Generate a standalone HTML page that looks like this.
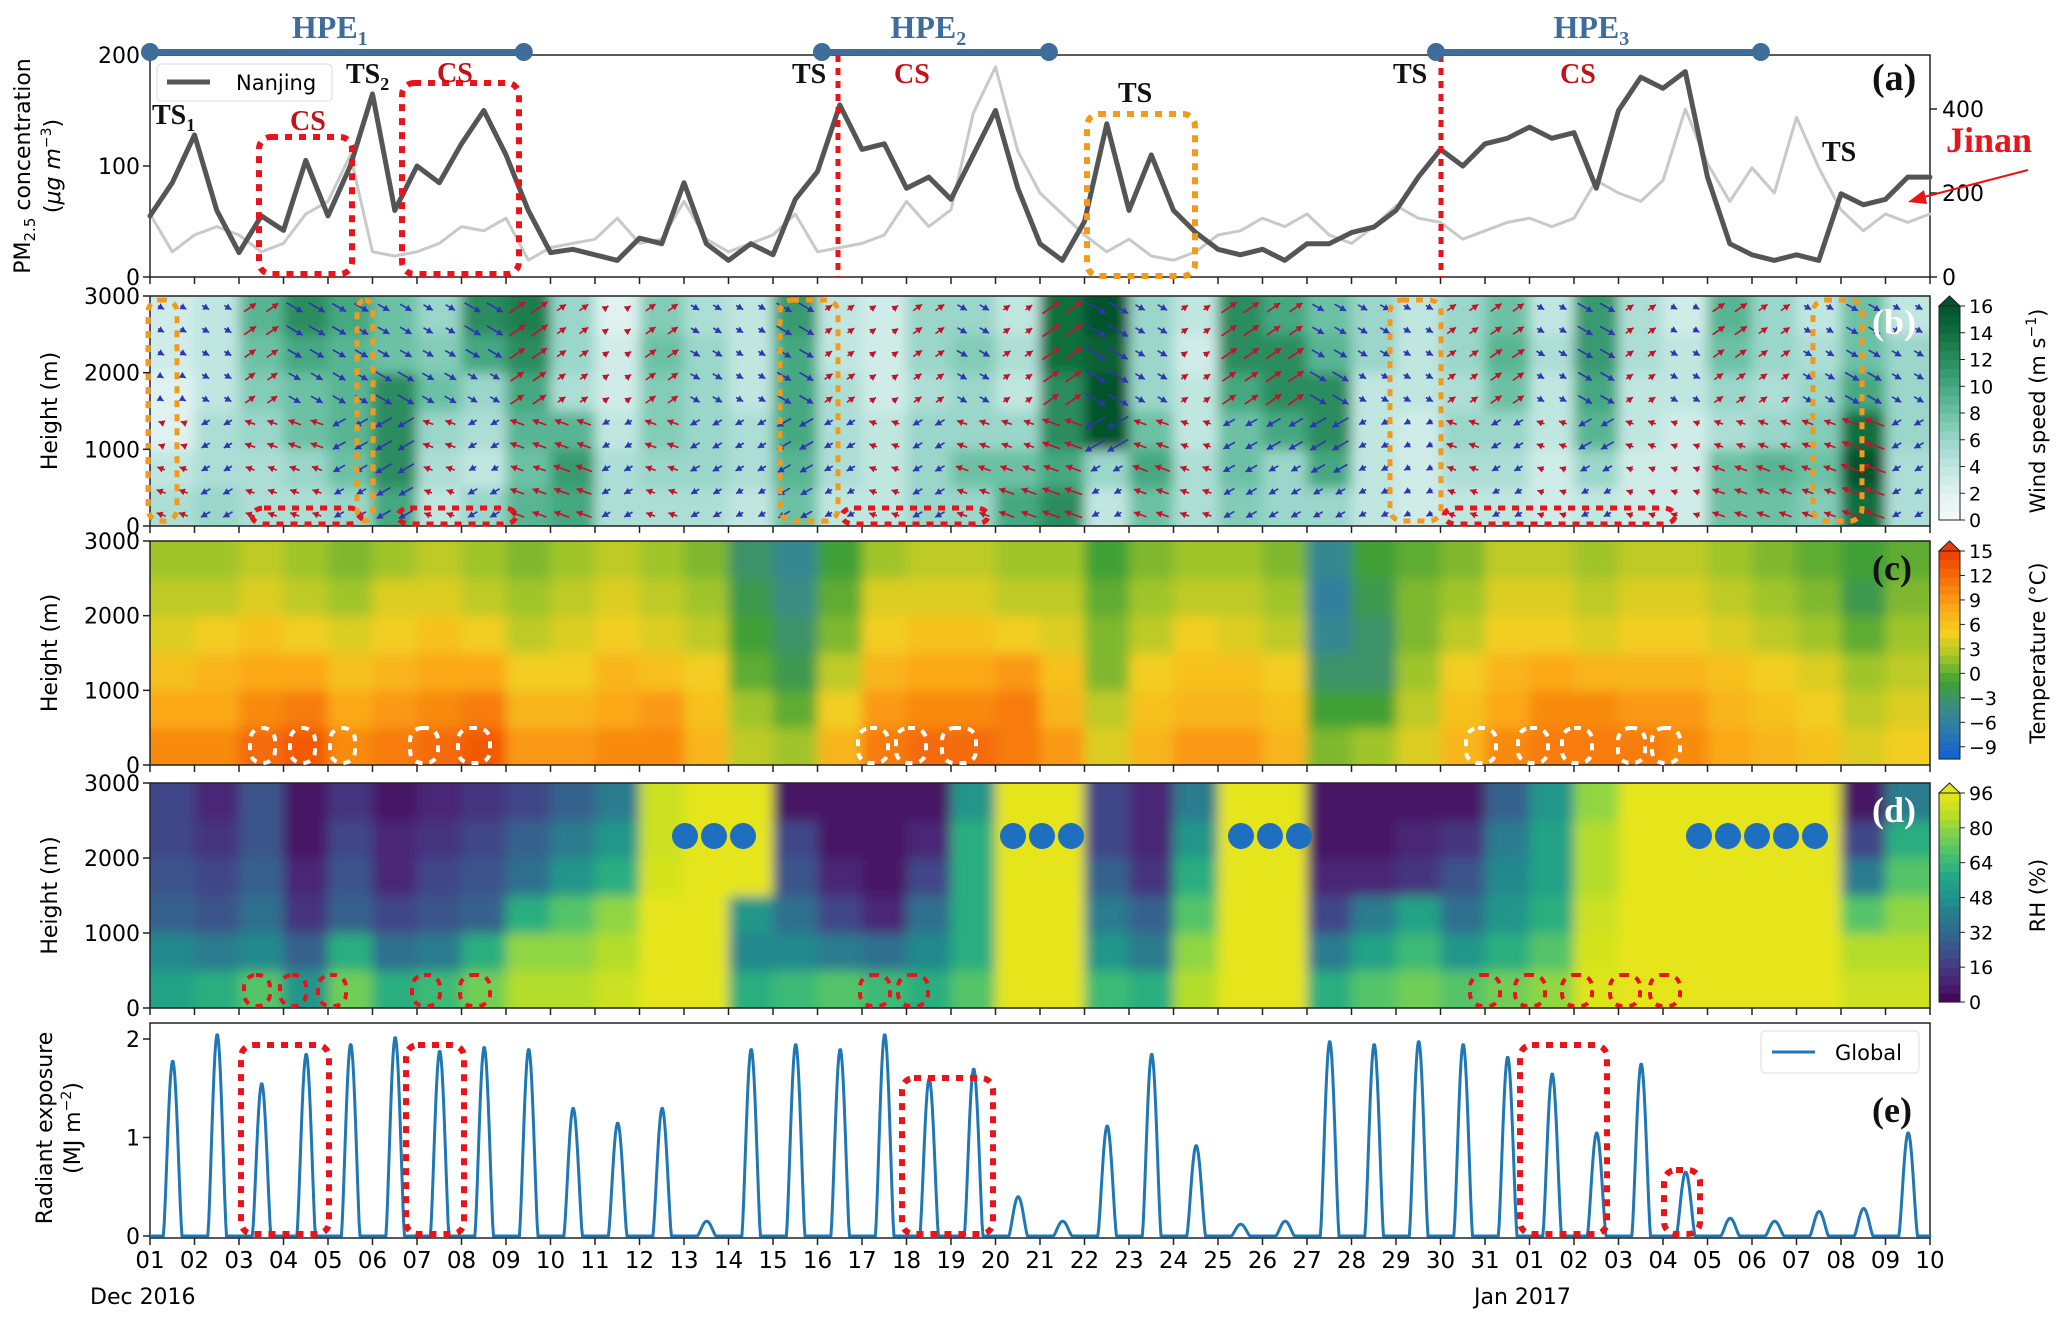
<!DOCTYPE html>
<html><head><meta charset="utf-8"><style>
html,body{margin:0;padding:0;background:#fff}
svg{display:block}
text{font-family:"DejaVu Sans","Liberation Sans",sans-serif}
.serif{font-family:"Liberation Serif",serif;font-weight:bold}
</style></head><body>
<svg id="fig" width="2067" height="1327" viewBox="0 0 2067 1327"></svg>
<script>
// ---------- DATA ----------
const dayLabels=["01","02","03","04","05","06","07","08","09","10","11","12","13","14","15","16","17","18","19","20","21","22","23","24","25","26","27","28","29","30","31","01","02","03","04","05","06","07","08","09","10"];
const pmDays=[0,0.5,1,1.5,2,2.5,3,3.5,4,4.5,5,5.5,6,6.5,7,7.5,8,8.5,9,9.5,10,10.5,11,11.5,12,12.5,13,13.5,14,14.5,15,15.5,16,16.5,17,17.5,18,18.5,19,19.5,20,20.5,21,21.5,22,22.5,23,23.5,24,24.5,25,25.5,26,26.5,27,27.5,28,28.5,29,29.5,30,30.5,31,31.5,32,32.5,33,33.5,34,34.5,35,35.5,36,36.5,37,37.5,38,38.5,39,39.5,40];
const nanjing=[55,85,128,60,22,55,42,105,55,100,165,60,100,85,120,150,110,60,22,25,20,15,35,30,85,30,15,30,20,70,95,155,115,120,80,90,70,110,150,80,30,15,50,138,60,110,60,40,25,20,25,15,30,30,40,45,60,90,115,100,120,125,135,125,130,80,150,180,170,185,90,30,20,15,20,15,75,65,70,90,90];
const jinan=[150,60,100,120,100,60,80,150,180,290,60,50,60,80,120,110,140,40,70,80,90,140,80,90,180,90,60,80,100,150,60,70,80,100,180,120,160,390,500,300,200,150,100,60,90,50,40,60,100,110,140,120,150,100,80,120,170,140,130,90,110,130,140,120,140,230,200,180,230,400,270,180,260,200,380,260,160,110,150,130,150];
const pmTicksL=[0,100,200];
const pmTicksR=[0,200,400];
const hTicks=[0,1000,2000,3000];
const ws0=[5,6,5,5,6,10,4,6,9,10,5,5,5,4,8,4,4,6,6,10,12,4,8,5,7,6,6,4,3,4,4,3,4,3,3,8,8,7,14,5];
const ws1=[4,5,5,6,8,12,5,4,8,11,5,6,6,5,9,5,4,6,8,8,10,6,10,5,8,6,10,4,3,5,5,3,6,3,3,8,9,8,16,5];
const ws2=[2,5,6,8,9,12,6,5,9,9,4,7,6,5,10,5,4,6,6,6,12,16,8,4,8,10,12,4,3,6,6,4,9,4,3,5,6,7,14,6];
const ws3=[2,4,7,8,9,12,8,6,10,5,3,7,6,4,10,5,3,5,6,4,12,16,6,4,10,12,12,4,4,5,8,4,10,4,4,6,5,6,10,6];
const ws4=[3,4,8,10,9,8,7,10,12,6,3,8,6,4,10,4,3,6,7,5,14,15,6,3,12,12,9,6,4,6,9,5,11,5,4,8,6,5,8,6];
const ws5=[3,4,9,12,10,8,6,12,13,6,2,7,5,4,11,4,3,6,6,4,14,16,6,4,12,10,8,6,4,6,8,4,11,5,3,9,6,4,8,4];
const windTop="bbrbbbbbrrrrbbbrrrbrrbbrrrbbbrrbbrbrrbbb";
const windLow="rbrrbbrbrrbrbbbbrbrrrbrrbbbbbrbrbrrrrrrb";
const t0=[10,10,12,13,10,11,12,13,9,9,10,10,7,3,2,7,11,12,12,11,9,4,7,9,9,7,1,2,4,7,10,11,11,11,10,8,7,6,4,5];
const t1=[8,8,10,11,8,9,10,11,7,7,8,9,6,2,0,5,9,10,10,11,7,3,6,7,7,6,-1,-1,3,6,8,10,10,9,9,7,6,5,3,4];
const t2=[6,7,8,8,6,7,8,8,5,5,7,6,5,0,-2,3,7,8,8,9,6,1,5,6,6,5,-3,-3,2,5,7,8,7,7,7,6,5,4,2,3];
const t3=[4,5,6,5,4,5,6,5,3,4,5,4,3,-1,-3,1,5,6,6,5,4,1,3,5,4,3,-5,-3,1,3,5,5,4,5,5,4,3,2,0,2];
const t4=[3,3,4,3,2,4,4,3,2,3,4,3,2,-2,-4,0,4,4,4,3,3,0,2,3,3,2,-6,-2,1,2,4,4,3,4,4,3,2,1,-2,1];
const t5=[2,2,3,2,1,2,3,2,1,2,3,2,1,-3,-5,-1,2,3,3,2,2,-1,1,2,2,1,-5,-1,0,1,3,3,2,3,3,2,1,0,-1,0];
const rh0=[55,60,70,50,75,60,65,75,85,85,90,96,96,60,65,70,65,60,70,96,96,65,60,85,96,96,60,70,75,70,75,80,94,96,96,96,96,96,90,90];
const rh1=[45,40,45,30,60,35,40,60,80,80,85,96,96,45,45,40,35,45,60,96,96,50,40,80,96,96,40,55,65,50,60,70,92,96,96,96,96,96,85,85];
const rh2=[30,25,35,15,30,20,25,30,60,70,80,96,96,50,35,20,10,35,60,96,96,40,30,70,96,96,20,40,55,35,50,60,90,96,96,96,96,96,70,80];
const rh3=[25,20,30,10,25,10,20,25,35,50,60,92,96,96,25,10,5,20,60,96,96,30,15,60,96,96,10,10,15,25,45,55,85,96,96,96,96,96,40,70];
const rh4=[20,15,25,5,20,10,15,20,30,40,50,90,96,96,20,5,5,10,60,96,96,20,10,50,96,96,5,5,10,15,40,55,85,96,96,96,96,96,20,60];
const rh5=[20,10,25,5,15,5,10,15,20,30,40,90,96,96,5,5,5,5,50,96,96,20,10,40,96,96,5,5,5,5,30,50,80,96,96,96,96,96,5,40];
const radPeak=[1.78,2.05,1.55,1.85,1.95,2.02,1.88,1.92,1.9,1.3,1.15,1.3,0.15,1.9,1.95,1.9,2.05,1.6,1.7,0.4,0.15,1.12,1.85,0.92,0.12,0.15,1.98,1.95,1.98,1.95,1.82,1.65,1.05,1.75,0.65,0.18,0.15,0.25,0.28,1.05];
const radTicks=[0,1,2];
const wsTicks=[0,2,4,6,8,10,12,14,16];
const tTicks=[-9,-6,-3,0,3,6,9,12,15];
const rhTicks=[0,16,32,48,64,80,96];

// ---------- HELPERS ----------
const NS="http://www.w3.org/2000/svg";
const svg=document.getElementById('fig');
function mk(tag,attrs,parent){const e=document.createElementNS(NS,tag);for(const k in attrs)e.setAttribute(k,attrs[k]);(parent||svg).appendChild(e);return e;}
const L=150,R=1930;
const X=d=>L+d*(R-L)/40;
const P={a:[55,277],b:[296,526],c:[541,765],d:[783,1008],e:[1023,1238]};
const yH=(p,h)=>P[p][1]-h/3000*(P[p][1]-P[p][0]);
const yPM=v=>277-v/200*222;
const yJ=v=>277-v/400*168;
const yRad=v=>1236-v*98.5;

function lerpColor(stops,t){t=Math.max(0,Math.min(1,t));for(let i=1;i<stops.length;i++){if(t<=stops[i][0]){const a=stops[i-1],b=stops[i];const f=(t-a[0])/(b[0]-a[0]);const ca=a[1].match(/\w\w/g).map(h=>parseInt(h,16)),cb=b[1].match(/\w\w/g).map(h=>parseInt(h,16));return 'rgb('+ca.map((c,j)=>Math.round(c+(cb[j]-c)*f)).join(',')+')';}}return stops[stops.length-1][1];}
const wsStops=[[0,'#f4fbfb'],[0.125,'#dff2f0'],[0.25,'#c0e6e0'],[0.375,'#9ad6c9'],[0.5,'#6cc1a5'],[0.625,'#44a881'],[0.75,'#2a8c5e'],[0.875,'#106f3e'],[1,'#00532a']];
const tStops=[[0,'#0f5fd8'],[0.125,'#2a78b0'],[0.25,'#3a8c85'],[0.375,'#3fa032'],[0.5,'#a8c82a'],[0.6,'#f2d020'],[0.72,'#fbab1a'],[0.85,'#f7780c'],[1,'#ee3a00']];
const rhStops=[[0,'#440154'],[0.1,'#482475'],[0.2,'#414487'],[0.3,'#355f8d'],[0.4,'#2a788e'],[0.5,'#21918c'],[0.6,'#22a884'],[0.7,'#44bf70'],[0.8,'#7ad151'],[0.9,'#bddf26'],[1,'#e6e51a']];

const defs=mk('defs',{});
['b','c','d'].forEach(p=>{const cp=mk('clipPath',{id:'clip'+p},defs);mk('rect',{x:L,y:P[p][0],width:R-L,height:P[p][1]-P[p][0]},cp);});
const flt=mk('filter',{id:'soft',x:'-5%',y:'-5%',width:'110%',height:'110%'},defs);
mk('feGaussianBlur',{stdDeviation:'6'},flt);

function heatmap(p,rows,fn,name){
  const outer=mk('g',{'clip-path':'url(#clip'+p+')'});
  
  
  const g=mk('g',{filter:'url(#soft)'},outer);
  rows.forEach((row,ri)=>{row.forEach((v,ci)=>{
    const x0=ci===0?L-30:X(ci), x1=ci===row.length-1?R+30:X(ci+1);
    const y1=ri===0?P[p][1]+30:yH(p,ri*500), y0=ri===rows.length-1?P[p][0]-30:yH(p,(ri+1)*500);
    const r=mk('rect',{x:x0,y:y0,width:x1-x0+0.5,height:y1-y0+0.5,fill:fn(v)},g);
    
    
  });});
  return outer;
}
function frame(p,name){const r=mk('rect',{x:L,y:P[p][0],width:R-L,height:P[p][1]-P[p][0],fill:'none',stroke:'#222','stroke-width':1.5});
  
  
  for(let i=0;i<=40;i++){mk('line',{x1:X(i),x2:X(i),y1:P[p][1],y2:P[p][1]+7,stroke:'#222','stroke-width':1.5});}}
function txt(s,x,y,attrs,name){const t=mk('text',Object.assign({x:x,y:y},attrs||{}));t.textContent=s;
  
  
  return t;}
function ylab(lines,x,cy,size){const t=mk('text',{transform:`translate(${x},${cy}) rotate(-90)`,'text-anchor':'middle','font-size':size||22});
  
  
  t.innerHTML=lines;return t;}
function dotBox(x0,y0,x1,y1,col,name,w){const r=mk('rect',{x:x0,y:y0,width:x1-x0,height:y1-y0,rx:12,fill:'none',stroke:col,'stroke-width':w||6,'stroke-dasharray':'7 7'});
  
  }

// ---------- PANEL B ----------
heatmap('b',[ws0,ws1,ws2,ws3,ws4,ws5],v=>lerpColor(wsStops,v/16),'wind-speed-contour');
const wsRows=[ws0,ws1,ws2,ws3,ws4,ws5];
const arrowG=mk('g',{'clip-path':'url(#clipb)'});


for(let d=0;d<40;d++){for(let k=0;k<2;k++){for(let j=0;j<10;j++){
  const h=150+j*300, sp=wsRows[Math.floor(h/500)][d];
  const top=h>=1500, c=(top?windTop:windLow)[d];
  const col=c==='r'?'#c0142a':'#2f35b0';
  const ang=c==='r'?(top?-35:200):(top?30:150);
  const len=3+sp*1.3, cx=X(d+0.25+k*0.5), cy=yH('b',h);
  const a=ang*Math.PI/180, ex=cx+Math.cos(a)*len/2, ey=cy+Math.sin(a)*len/2, sx=cx-Math.cos(a)*len/2, sy=cy-Math.sin(a)*len/2;
  mk('line',{x1:sx,y1:sy,x2:ex,y2:ey,stroke:col,'stroke-width':1.6},arrowG);
  const hx=ex-Math.cos(a)*6, hy=ey-Math.sin(a)*6, px=-Math.sin(a)*3.5, py=Math.cos(a)*3.5;
  mk('polygon',{points:`${ex},${ey} ${hx+px},${hy+py} ${hx-px},${hy-py}`,fill:col},arrowG);
}}}
frame('b','wind-panel-frame');
heatmap('c',[t0,t1,t2,t3,t4,t5],v=>lerpColor(tStops,(v+10.5)/25.5),'temperature-contour');
frame('c','temperature-panel-frame');
heatmap('d',[rh0,rh1,rh2,rh3,rh4,rh5],v=>lerpColor(rhStops,v/96),'rh-contour');
frame('d','rh-panel-frame');

// ---------- PANEL A ----------
frame('a','pm-panel-frame');
function line(xs,ys,fx,fy,attrs,name){const pts=xs.map((d,i)=>fx(d).toFixed(1)+','+fy(ys[i]).toFixed(1)).join(' ');
  const pl=mk('polyline',Object.assign({points:pts,fill:'none','stroke-linejoin':'round','stroke-linecap':'round'},attrs));
  
  }
line(pmDays,jinan,X,yJ,{stroke:'#c9c9c9','stroke-width':3},'jinan-line');
line(pmDays,nanjing,X,yPM,{stroke:'#555','stroke-width':5},'nanjing-line');
pmTicksL.forEach(v=>{mk('line',{x1:L-7,x2:L,y1:yPM(v),y2:yPM(v),stroke:'#222','stroke-width':1.5});txt(v,L-10,yPM(v)+8,{'text-anchor':'end','font-size':22},'y-tick-left');});
pmTicksR.forEach(v=>{mk('line',{x1:R,x2:R+7,y1:yJ(v),y2:yJ(v),stroke:'#222','stroke-width':1.5});txt(v,R+12,yJ(v)+8,{'font-size':22},'y-tick-right');});
const lg=mk('rect',{x:157,y:64,width:175,height:37,rx:4,fill:'#fff',stroke:'#ddd','stroke-width':1});


mk('line',{x1:167,x2:210,y1:82,y2:82,stroke:'#555','stroke-width':5});
txt('Nanjing',236,90,{'font-size':21},'legend-label');
dotBox(259,137,352,274,'#e8141a','cs-box-1');
dotBox(402,83,519,274,'#e8141a','cs-box-2');
dotBox(1087,114,1195,276,'#f39a1a','ts-box');
[838,1441].forEach(x=>{const l=mk('line',{x1:x,x2:x,y1:55,y2:277,stroke:'#e8141a','stroke-width':5,'stroke-dasharray':'7 6'});});
function stxt(html,x,y,col,size,name){const t=mk('text',{x:x,y:y,class:'serif',fill:col,'font-size':size});t.innerHTML=html;
  
  }
stxt('TS<tspan font-size="18" dy="7">1</tspan>',152,124,'#111',28,'ts1-label');
stxt('CS',290,130,'#c0141a',28,'cs-label-1');
stxt('TS<tspan font-size="18" dy="7">2</tspan>',346,83,'#111',28,'ts2-label');
stxt('CS',437,82,'#c0141a',28,'cs-label-2');
stxt('TS',792,83,'#111',28,'ts-label-2');
stxt('CS',894,83,'#c0141a',28,'cs-label-3');
stxt('TS',1118,102,'#111',28,'ts-label-3');
stxt('TS',1393,83,'#111',28,'ts-label-4');
stxt('CS',1560,83,'#c0141a',28,'cs-label-4');
stxt('TS',1822,161,'#111',28,'ts-label-5');
stxt('(a)',1872,90,'#111',38,'panel-a-label');
stxt('Jinan',1946,152,'#e8141a',36,'jinan-label');
mk('line',{x1:2028,y1:170,x2:1920,y2:198,stroke:'#e8141a','stroke-width':2});
mk('polygon',{points:'1908,202 1924,190 1927,204',fill:'#e8141a'});
[[0,8.4,'1'],[15.1,20.2,'2'],[28.9,36.2,'3']].forEach((h,i)=>{
  const l=mk('line',{x1:X(h[0]),x2:X(h[1]),y1:52,y2:52,stroke:'#3f6d9a','stroke-width':6});
  
  
  mk('circle',{cx:X(h[0]),cy:52,r:9,fill:'#3f6d9a'});mk('circle',{cx:X(h[1]),cy:52,r:9,fill:'#3f6d9a'});
  stxt('HPE<tspan font-size="20" dy="7">'+h[2]+'</tspan>',(X(h[0])+X(h[1]))/2-45,38,'#3f6d9a',32,'hpe-label-'+(i+1));
});
ylab('PM<tspan font-size="15" dy="5">2.5</tspan><tspan dy="-5"> concentration</tspan>',30,166,22);
ylab('(<tspan font-style="italic">μg m</tspan><tspan font-size="14" dy="-9">−3</tspan><tspan dy="9">)</tspan>',60,166,22);

[[148,177],[357,373],[780,838],[1390,1441],[1813,1862]].forEach(b=>dotBox(b[0],300,b[1],521,'#f39a1a','orange-ts-box',5));
[[252,361],[398,516],[842,988],[1444,1675]].forEach(b=>dotBox(b[0],508,b[1],524,'#e8141a','red-surface-box',5));
[[250,275],[290,315],[330,355],[410,438],[458,490],[858,888],[896,926],[942,976],[1466,1496],[1518,1548],[1562,1592],[1618,1645],[1652,1680]].forEach(b=>dotBox(b[0],728,b[1],763,'#ffffff','white-warm-box',4));
[[244,270],[280,306],[318,346],[412,440],[460,490],[860,890],[898,928],[1470,1500],[1515,1545],[1562,1592],[1610,1640],[1650,1680]].forEach(b=>dotBox(b[0],975,b[1],1006,'#e8141a','red-rh-box',4));
[685,714,743,1013,1042,1071,1241,1270,1299,1699,1728,1757,1786,1815].forEach(x=>{const c=mk('circle',{cx:x,cy:836,r:13,fill:'#1f6fc0'});});
stxt('(b)',1872,334,'#fff',36,'panel-b-label');
stxt('(c)',1872,580,'#111',36,'panel-c-label');
stxt('(d)',1872,822,'#fff',36,'panel-d-label');
['b','c','d'].forEach(p=>{hTicks.forEach(v=>{mk('line',{x1:L-7,x2:L,y1:yH(p,v),y2:yH(p,v),stroke:'#222','stroke-width':1.5});txt(v,L-10,yH(p,v)+8,{'text-anchor':'end','font-size':22},'height-tick');});
  ylab('Height (m)',57,(P[p][0]+P[p][1])/2,22);});

function colorbar(p,stops,ticks,lo,hi,title,name){
  const y0=P[p][0]+10,y1=P[p][1]-6,cx=1939,w=21;
  const g=mk('g',{});
  
  
  const n=24;for(let i=0;i<n;i++){mk('rect',{x:cx,y:y1-(i+1)*(y1-y0)/n,width:w,height:(y1-y0)/n+0.6,fill:lerpColor(stops,(i+0.5)/n)},g);}
  mk('polygon',{points:`${cx},${y0} ${cx+w/2},${y0-10} ${cx+w},${y0}`,fill:lerpColor(stops,1),stroke:'#222','stroke-width':1},g);
  mk('rect',{x:cx,y:y0,width:w,height:y1-y0,fill:'none',stroke:'#222','stroke-width':1},g);
  ticks.forEach(v=>{const y=y1-(v-lo)/(hi-lo)*(y1-y0);mk('line',{x1:cx+w,x2:cx+w+5,y1:y,y2:y,stroke:'#222'},g);txt(v<0?'−'+(-v):v,cx+w+9,y+7,{'font-size':19},'colorbar-tick');});
  const t=mk('text',{transform:`translate(2045,${(P[p][0]+P[p][1])/2}) rotate(-90)`,'text-anchor':'middle','font-size':21});t.innerHTML=title;
  
  
}
colorbar('b',wsStops,wsTicks,0,16,'Wind speed (m s<tspan font-size="14" dy="-9">−1</tspan><tspan dy="9">)</tspan>','wind-colorbar');
colorbar('c',tStops,tTicks,-10.5,15,'Temperature (°C)','temperature-colorbar');
colorbar('d',rhStops,rhTicks,0,96,'RH (%)','rh-colorbar');

const rx=[],ry=[];
radPeak.forEach((pk,d)=>{for(let s=0;s<=50;s++){const f=s/50;rx.push(d+f);const on=f>0.3&&f<0.72;ry.push(on?pk*Math.pow(Math.sin(Math.PI*(f-0.3)/0.42),1.4):0);}});
const fe=mk('rect',{x:L,y:P.e[0],width:R-L,height:P.e[1]-P.e[0],fill:'none',stroke:'#222','stroke-width':1.5});


line(rx,ry,X,yRad,{stroke:'#1f77b4','stroke-width':3},'global-radiation-line');
for(let i=0;i<=40;i++){mk('line',{x1:X(i),x2:X(i),y1:P.e[1],y2:P.e[1]+7,stroke:'#222','stroke-width':1.5});txt(dayLabels[i],X(i),1268,{'text-anchor':'middle','font-size':23},'x-tick-label');}
radTicks.forEach(v=>{mk('line',{x1:L-7,x2:L,y1:yRad(v),y2:yRad(v),stroke:'#222','stroke-width':1.5});txt(v,L-10,yRad(v)+8,{'text-anchor':'end','font-size':22},'radiation-tick');});
ylab('Radiant exposure',52,1128,22);
ylab('(MJ m<tspan font-size="14" dy="-9">−2</tspan><tspan dy="9">)</tspan>',80,1128,22);
dotBox(241,1045,329,1234,'#e8141a','cs-rad-box-1');
dotBox(406,1045,464,1234,'#e8141a','cs-rad-box-2');
dotBox(902,1078,993,1234,'#e8141a','cs-rad-box-3');
dotBox(1520,1045,1607,1234,'#e8141a','cs-rad-box-4');
dotBox(1664,1170,1700,1234,'#e8141a','cs-rad-box-5');
const lg2=mk('rect',{x:1761,y:1031,width:158,height:42,rx:4,fill:'#fff',stroke:'#ddd'});


mk('line',{x1:1772,x2:1815,y1:1052,y2:1052,stroke:'#1f77b4','stroke-width':3});
txt('Global',1835,1060,{'font-size':21},'legend-label');
stxt('(e)',1872,1122,'#111',36,'panel-e-label');
txt('Dec  2016',90,1304,{'font-size':22},'x-axis-month-dec');
txt('Jan  2017',1474,1304,{'font-size':22},'x-axis-month-jan');
</script>
</body></html>
